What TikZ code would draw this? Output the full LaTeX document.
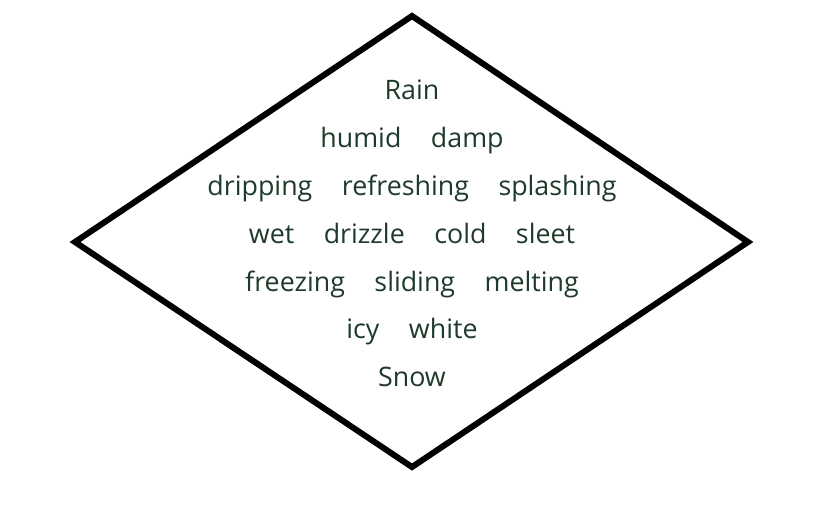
\documentclass[tikz,border=0pt]{standalone}
\usepackage{fontspec}
\setmainfont{Open Sans}
\definecolor{txt}{HTML}{1F3A2A}
\begin{document}
\begin{tikzpicture}[x=1pt,y=1pt,
  word/.style={text=txt,font=\fontsize{26.8}{32}\selectfont,inner sep=0pt,anchor=base},
  edge/.style={draw=black,line width=6pt,line join=miter}]
\useasboundingbox (0,0) rectangle (830,507);
\coordinate (T) at (412,491);
\coordinate (R) at (748,265);
\coordinate (B) at (412,40);
\coordinate (L) at (75,265);
\draw[edge] (T) -- (R) -- (B) -- (L) -- cycle;
\newcommand{\gp}{\hspace{29.5pt}}
\node[word] (l1) at (412,407) {Rain};
\node[word] (l2) at (412,359) {humid\gp damp};
\node[word] (l3) at (412,312) {dripping\gp refreshing\gp splashing};
\node[word] (l4) at (412,264) {wet\gp drizzle\gp cold\gp sleet};
\node[word] (l5) at (412,216) {freezing\gp sliding\gp melting};
\node[word] (l6) at (412,169) {icy\gp white};
\node[word] (l7) at (412,121) {Snow};
\end{tikzpicture}
\end{document}
